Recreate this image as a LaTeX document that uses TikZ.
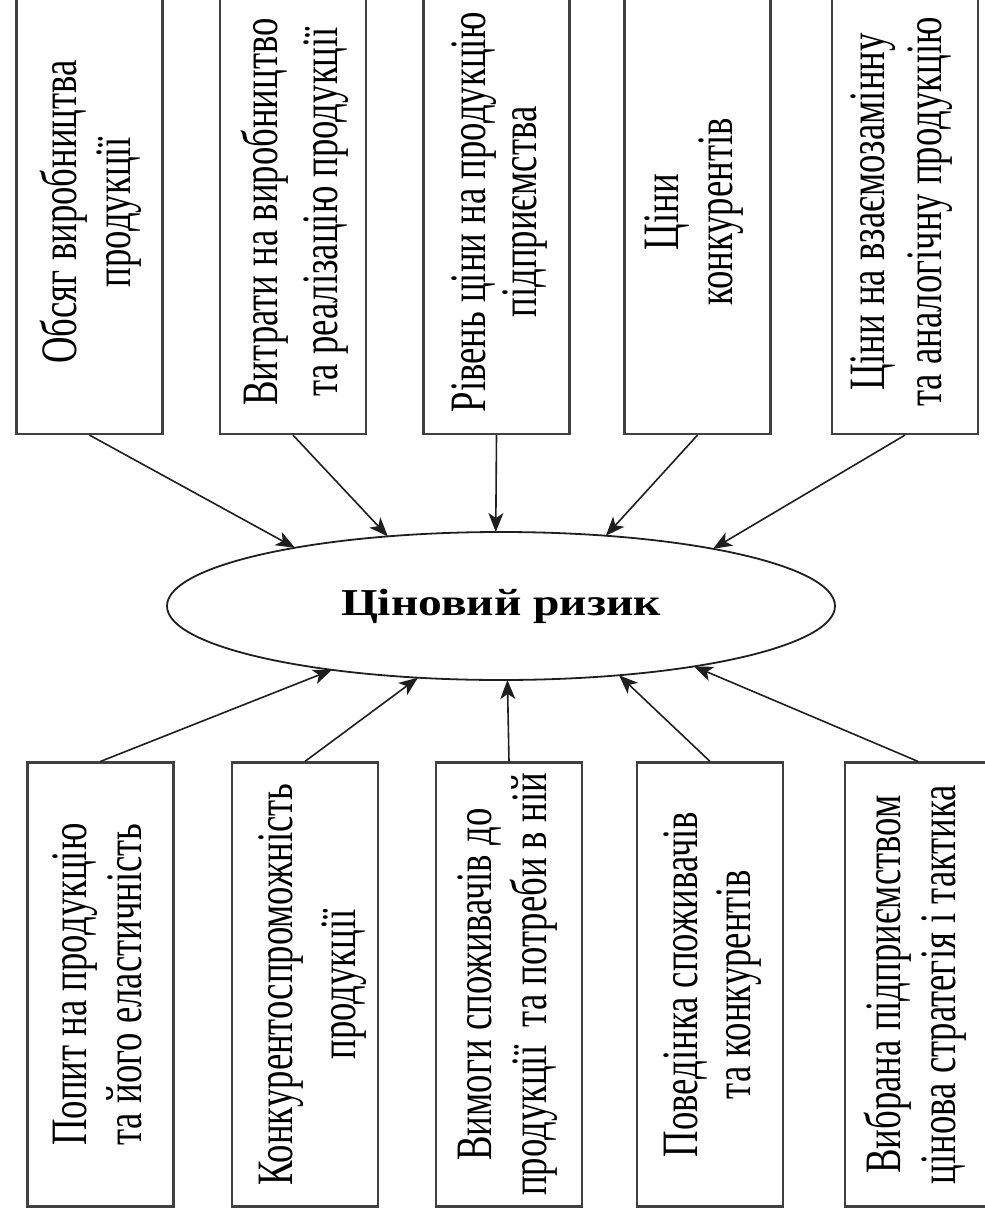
\documentclass[tikz,border=0pt]{standalone}
\usepackage{fontspec}
\usepackage{graphicx}
\setmainfont{Liberation Serif}
\usetikzlibrary{shapes.geometric, arrows.meta, calc}
\newcommand\tbx[3]{\scalebox{#1}[1]{\fontsize{51}{#2}\selectfont\begin{tabular}{@{}c@{}}#3\end{tabular}}}
\begin{document}
\begin{tikzpicture}[x=1pt,y=-1pt,
  box/.style={draw=black!75, line width=2.2pt, minimum width=146pt, minimum height=444pt, inner sep=0pt},
  lbl/.style={rotate=90, inner sep=0pt},
  arr/.style={draw=black!88, line width=1.6pt, -{Stealth[length=19pt,width=15pt,inset=5pt]}},
  core/.style={ellipse, draw=black!88, line width=1.8pt, minimum width=668pt, minimum height=148pt, inner sep=0pt, font=\bfseries\fontsize{38}{40}\selectfont}]
\useasboundingbox (0,0) rectangle (985,1218);
\clip (0,0) rectangle (985,1218);

% top boxes
\node[box] (b1) at (89.5,212) {};
\node[box] (b2) at (293,212) {};
\node[box] (b3) at (496.5,212) {};
\node[box] (b4) at (697.5,212) {};
\node[box] (b5) at (905,212) {};
% bottom boxes
\node[box] (c1) at (100.5,984.5) {};
\node[box] (c2) at (305,984.5) {};
\node[box] (c3) at (509,984.5) {};
\node[box] (c4) at (710,984.5) {};
\node[box] (c5) at (918,984.5) {};

% labels top
\node[lbl] (l1) at ($(b1.center)+(3.5,0)$) {\tbx{0.72}{54}{Обсяг виробництва\\продукції}};
\node[lbl] (l2) at ($(b2.center)+(2,0)$) {\tbx{0.72}{60}{Витрати на виробництво\\та реалізацію продукції}};
\node[lbl] (l3) at ($(b3.center)+(4,0)$) {\tbx{0.72}{51}{Рівень ціни на продукцію\\підприємства}};
\node[lbl] (l4) at ($(b4.center)+(-2.5,0)$) {\tbx{0.72}{54}{Ціни\\конкурентів}};
\node[lbl] (l5) at ($(b5.center)+(-3.5,0)$) {\tbx{0.72}{57}{Ціни на взаємозамінну\\та аналогічну продукцію}};
% labels bottom
\node[lbl] (m1) at ($(c1.center)+(2.5,0)$) {\tbx{0.72}{55}{Попит на продукцію\\та його еластичність}};
\node[lbl] (m2) at ($(c2.center)+(6,0)$) {\tbx{0.72}{63}{Конкурентоспроможність\\продукції}};
\node[lbl] (m3) at ($(c3.center)+(-1,0)$) {\tbx{0.72}{55}{Вимоги споживачів до\\продукції\ \ та потреби в ній}};
\node[lbl] (m4) at ($(c4.center)+(3,0)$) {\tbx{0.72}{53}{Поведінка споживачів\\та конкурентів}};
\node[lbl] (m5) at ($(c5.center)+(-1,0)$) {\tbx{0.72}{55}{Вибрана підприємством\\цінова стратегія і тактика}};

% central ellipse
\node[core] (E) at (501,606) {\scalebox{1.25}[1]{Ціновий ризик}};

% points on the ellipse
\foreach \n/\t in {e1/128.1, e2/109.8, e3/90.9, e4/71.7, e5/50.6, f1/239.6, f2/255.6, f3/271.1, f4/290.7, f5/305.3}
  \coordinate (\n) at ($(E.center)+({334*cos(\t)},{-74*sin(\t)})$);

% connectors
\draw[arr] (b1.south) -- (e1);
\draw[arr] (b2.south) -- (e2);
\draw[arr] (b3.south) -- (e3);
\draw[arr] (b4.south) -- (e4);
\draw[arr] (b5.south) -- (e5);
\draw[arr] (c1.north) -- (f1);
\draw[arr] (c2.north) -- (f2);
\draw[arr] (c3.north) -- (f3);
\draw[arr] (c4.north) -- (f4);
\draw[arr] (c5.north) -- (f5);
\end{tikzpicture}
\end{document}
